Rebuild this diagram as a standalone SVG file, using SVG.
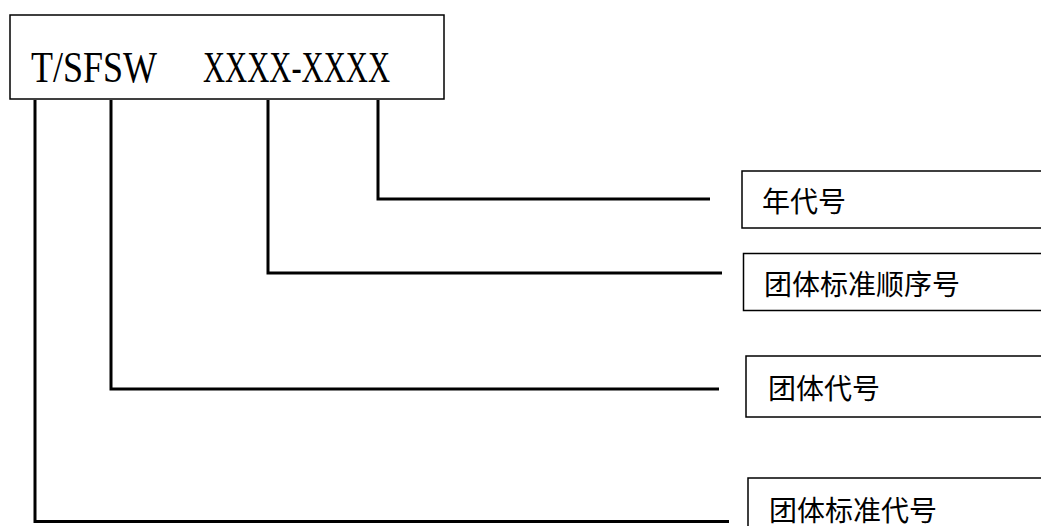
<svg xmlns="http://www.w3.org/2000/svg" width="1041" height="526" viewBox="0 0 1041 526">
<style>
.box{fill:#fff;stroke:#000;stroke-width:1.5}
.code{font-family:"Liberation Serif",serif;font-size:44px;fill:#000}
.lbl{font-family:"Noto Sans CJK SC",sans-serif;font-size:28px;fill:#000}
.con{fill:none;stroke:#000;stroke-width:3;stroke-linejoin:miter;stroke-linecap:butt}
</style>
<rect width="1041" height="526" fill="#fff"/>
<g id="code-box">
<rect class="box" x="10" y="15" width="434" height="84"/>
<text class="code" x="31" y="82" textLength="126" lengthAdjust="spacingAndGlyphs">T/SFSW</text>
<text class="code" x="203" y="82" textLength="187" lengthAdjust="spacingAndGlyphs">XXXX-XXXX</text>
</g>
<g id="connectors">
<polyline class="con" points="378,100 378,199 710,199"/>
<polyline class="con" points="268,100 268,273 722,273"/>
<polyline class="con" points="111,100 111,389 719,389"/>
<polyline class="con" points="35,100 35,521.5 729,521.5"/>
</g>
<g id="year">
<rect class="box" x="742" y="171" width="320" height="57"/>
<text class="lbl" x="762" y="212">年代号</text>
</g>
<g id="sequence">
<rect class="box" x="743.5" y="253.5" width="320" height="57"/>
<text class="lbl" x="764" y="295">团体标准顺序号</text>
</g>
<g id="group-code">
<rect class="box" x="746" y="356" width="320" height="61"/>
<text class="lbl" x="768" y="399">团体代号</text>
</g>
<g id="standard-code">
<rect class="box" x="748" y="478" width="320" height="70"/>
<text class="lbl" x="769" y="521">团体标准代号</text>
</g>
</svg>
